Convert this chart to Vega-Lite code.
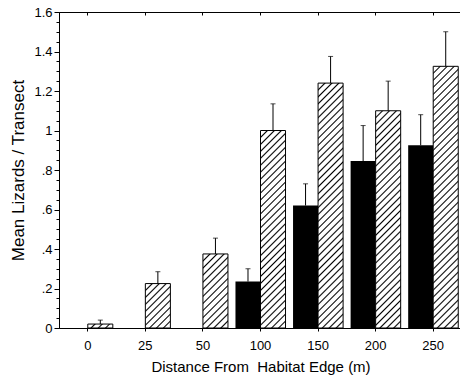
{
"$schema": "https://vega.github.io/schema/vega-lite/v6.json",
"width": 403, "height": 316,
"autosize": {"type": "none"},
"padding": {"left": 59, "top": 12, "right": 0, "bottom": 52},
"background": "white",
"config": {
  "view": {"stroke": "#000", "strokeWidth": 1},
  "axis": {"domainColor": "#000", "tickColor": "#000", "labelColor": "#000", "titleColor": "#000", "labelFont": "Liberation Sans", "titleFont": "Liberation Sans", "titleFontWeight": "normal", "grid": false, "labelFontSize": 13, "titleFontSize": 15}
},
"data": {"values": [
  {"dist": "0", "type": "hatched", "mean": 0.02, "upper": 0.04},
  {"dist": "25", "type": "hatched", "mean": 0.225, "upper": 0.285},
  {"dist": "50", "type": "hatched", "mean": 0.375, "upper": 0.455},
  {"dist": "100", "type": "black", "mean": 0.235, "upper": 0.30},
  {"dist": "100", "type": "hatched", "mean": 1.0, "upper": 1.135},
  {"dist": "150", "type": "black", "mean": 0.62, "upper": 0.73},
  {"dist": "150", "type": "hatched", "mean": 1.24, "upper": 1.375},
  {"dist": "200", "type": "black", "mean": 0.845, "upper": 1.025},
  {"dist": "200", "type": "hatched", "mean": 1.10, "upper": 1.25},
  {"dist": "250", "type": "black", "mean": 0.925, "upper": 1.08},
  {"dist": "250", "type": "hatched", "mean": 1.325, "upper": 1.50}
]},
"encoding": {
  "x": {"field": "dist", "type": "nominal", "scale": {"domain": ["0","25","50","100","150","200","250"], "paddingInner": 0, "paddingOuter": 0}, "axis": null},
  "xOffset": {"field": "type", "type": "nominal", "scale": {"domain": ["black", "hatched"], "paddingInner": 0, "paddingOuter": 0.15}},
  "y": {"field": "mean", "type": "quantitative", "scale": {"domain": [0, 1.6], "nice": false, "zero": true}, "axis": null}
},
"layer": [
  {
    "transform": [{"filter": "datum.type === 'black'"}],
    "mark": {"type": "bar", "fill": "#000"},
    "encoding": {
      "x": {"field": "dist", "type": "nominal", "scale": {"domain": ["0","25","50","100","150","200","250"], "paddingInner": 0, "paddingOuter": 0},
        "axis": {"orient": "bottom", "title": "Distance From\u00a0 Habitat Edge (m)", "labelAngle": 0, "tickSize": 3, "labelPadding": 8, "titlePadding": 7}},
      "y": {"field": "mean", "type": "quantitative", "scale": {"domain": [0, 1.6], "nice": false, "zero": true},
        "axis": {"orient": "left", "title": "Mean Lizards / Transect", "titleFontSize": 17, "titlePadding": 6,
          "values": [0,0.2,0.4,0.6,0.8,1,1.2,1.4,1.6],
          "labelExpr": "datum.value>0 && datum.value<1 ? slice(format(datum.value,'.1f'),1) : format(datum.value,'~g')",
          "labelOverlap": false, "labelFlush": false, "labelPadding": 2, "tickSize": 5}}
    }
  },
  {
    "transform": [{"filter": "datum.type === 'hatched' && datum.dist === '0'"}],
    "mark": {"type": "bar", "stroke": "#000", "strokeWidth": 1, "fill": {"gradient": "linear", "x1": 0, "y1": 0, "x2": 1.1298, "y2": 0.1785, "stops": [
      {"offset":0,"color":"#fff"},
      {"offset":0.1982,"color":"#fff"},{"offset":0.25,"color":"#000"},{"offset":0.3018,"color":"#fff"},
      {"offset":0.4482,"color":"#fff"},{"offset":0.5,"color":"#000"},{"offset":0.5518,"color":"#fff"},
      {"offset":0.6982,"color":"#fff"},{"offset":0.75,"color":"#000"},{"offset":0.8018,"color":"#fff"},
      {"offset":1,"color":"#fff"}]}}
  },
  {
    "transform": [{"filter": "datum.type === 'hatched' && datum.dist === '25'"}],
    "mark": {"type": "bar", "stroke": "#000", "strokeWidth": 1, "fill": {"gradient": "linear", "x1": 0, "y1": 0, "x2": 0.6677, "y2": 1.1869, "stops": [
      {"offset":0,"color":"#fff"},
      {"offset":0.0784,"color":"#fff"},{"offset":0.1,"color":"#000"},{"offset":0.1216,"color":"#fff"},
      {"offset":0.1784,"color":"#fff"},{"offset":0.2,"color":"#000"},{"offset":0.2216,"color":"#fff"},
      {"offset":0.2784,"color":"#fff"},{"offset":0.3,"color":"#000"},{"offset":0.3216,"color":"#fff"},
      {"offset":0.3784,"color":"#fff"},{"offset":0.4,"color":"#000"},{"offset":0.4216,"color":"#fff"},
      {"offset":0.4784,"color":"#fff"},{"offset":0.5,"color":"#000"},{"offset":0.5216,"color":"#fff"},
      {"offset":0.5784,"color":"#fff"},{"offset":0.6,"color":"#000"},{"offset":0.6216,"color":"#fff"},
      {"offset":0.6784,"color":"#fff"},{"offset":0.7,"color":"#000"},{"offset":0.7216,"color":"#fff"},
      {"offset":0.7784,"color":"#fff"},{"offset":0.8,"color":"#000"},{"offset":0.8216,"color":"#fff"},
      {"offset":0.8784,"color":"#fff"},{"offset":0.9,"color":"#000"},{"offset":0.9216,"color":"#fff"},
      {"offset":1,"color":"#fff"}]}}
  },
  {
    "transform": [{"filter": "datum.type === 'hatched' && datum.dist === '50'"}],
    "mark": {"type": "bar", "stroke": "#000", "strokeWidth": 1, "fill": {"gradient": "linear", "x1": 0, "y1": 0, "x2": 0.4053, "y2": 1.2007, "stops": [
      {"offset":0,"color":"#fff"},
      {"offset":0.0563,"color":"#fff"},{"offset":0.0714,"color":"#000"},{"offset":0.0865,"color":"#fff"},
      {"offset":0.1278,"color":"#fff"},{"offset":0.1429,"color":"#000"},{"offset":0.1580,"color":"#fff"},
      {"offset":0.1992,"color":"#fff"},{"offset":0.2143,"color":"#000"},{"offset":0.2294,"color":"#fff"},
      {"offset":0.2706,"color":"#fff"},{"offset":0.2857,"color":"#000"},{"offset":0.3008,"color":"#fff"},
      {"offset":0.3420,"color":"#fff"},{"offset":0.3571,"color":"#000"},{"offset":0.3722,"color":"#fff"},
      {"offset":0.4135,"color":"#fff"},{"offset":0.4286,"color":"#000"},{"offset":0.4437,"color":"#fff"},
      {"offset":0.4849,"color":"#fff"},{"offset":0.5,"color":"#000"},{"offset":0.5151,"color":"#fff"},
      {"offset":0.5563,"color":"#fff"},{"offset":0.5714,"color":"#000"},{"offset":0.5865,"color":"#fff"},
      {"offset":0.6278,"color":"#fff"},{"offset":0.6429,"color":"#000"},{"offset":0.6580,"color":"#fff"},
      {"offset":0.6992,"color":"#fff"},{"offset":0.7143,"color":"#000"},{"offset":0.7294,"color":"#fff"},
      {"offset":0.7706,"color":"#fff"},{"offset":0.7857,"color":"#000"},{"offset":0.8008,"color":"#fff"},
      {"offset":0.8420,"color":"#fff"},{"offset":0.8571,"color":"#000"},{"offset":0.8722,"color":"#fff"},
      {"offset":0.9135,"color":"#fff"},{"offset":0.9286,"color":"#000"},{"offset":0.9437,"color":"#fff"},
      {"offset":1,"color":"#fff"}]}}
  },
  {
    "transform": [{"filter": "datum.type === 'hatched' && datum.dist === '100'"}],
    "mark": {"type": "bar", "stroke": "#000", "strokeWidth": 1, "fill": {"gradient": "linear", "x1": 0, "y1": 0, "x2": 0.14036, "y2": 1.10882, "stops": [
      {"offset":0,"color":"#fff"},
      {"offset":0.0245,"color":"#fff"},{"offset":0.0312,"color":"#000"},{"offset":0.0379,"color":"#fff"},
      {"offset":0.0558,"color":"#fff"},{"offset":0.0625,"color":"#000"},{"offset":0.0692,"color":"#fff"},
      {"offset":0.0871,"color":"#fff"},{"offset":0.0938,"color":"#000"},{"offset":0.1005,"color":"#fff"},
      {"offset":0.1183,"color":"#fff"},{"offset":0.125,"color":"#000"},{"offset":0.1317,"color":"#fff"},
      {"offset":0.1495,"color":"#fff"},{"offset":0.1562,"color":"#000"},{"offset":0.1629,"color":"#fff"},
      {"offset":0.1808,"color":"#fff"},{"offset":0.1875,"color":"#000"},{"offset":0.1942,"color":"#fff"},
      {"offset":0.2121,"color":"#fff"},{"offset":0.2188,"color":"#000"},{"offset":0.2255,"color":"#fff"},
      {"offset":0.2433,"color":"#fff"},{"offset":0.25,"color":"#000"},{"offset":0.2567,"color":"#fff"},
      {"offset":0.2745,"color":"#fff"},{"offset":0.2812,"color":"#000"},{"offset":0.2879,"color":"#fff"},
      {"offset":0.3058,"color":"#fff"},{"offset":0.3125,"color":"#000"},{"offset":0.3192,"color":"#fff"},
      {"offset":0.3371,"color":"#fff"},{"offset":0.3438,"color":"#000"},{"offset":0.3505,"color":"#fff"},
      {"offset":0.3683,"color":"#fff"},{"offset":0.375,"color":"#000"},{"offset":0.3817,"color":"#fff"},
      {"offset":0.3995,"color":"#fff"},{"offset":0.4062,"color":"#000"},{"offset":0.4129,"color":"#fff"},
      {"offset":0.4308,"color":"#fff"},{"offset":0.4375,"color":"#000"},{"offset":0.4442,"color":"#fff"},
      {"offset":0.4621,"color":"#fff"},{"offset":0.4688,"color":"#000"},{"offset":0.4755,"color":"#fff"},
      {"offset":0.4933,"color":"#fff"},{"offset":0.5,"color":"#000"},{"offset":0.5067,"color":"#fff"},
      {"offset":0.5245,"color":"#fff"},{"offset":0.5312,"color":"#000"},{"offset":0.5379,"color":"#fff"},
      {"offset":0.5558,"color":"#fff"},{"offset":0.5625,"color":"#000"},{"offset":0.5692,"color":"#fff"},
      {"offset":0.5871,"color":"#fff"},{"offset":0.5938,"color":"#000"},{"offset":0.6005,"color":"#fff"},
      {"offset":0.6183,"color":"#fff"},{"offset":0.625,"color":"#000"},{"offset":0.6317,"color":"#fff"},
      {"offset":0.6495,"color":"#fff"},{"offset":0.6562,"color":"#000"},{"offset":0.6629,"color":"#fff"},
      {"offset":0.6808,"color":"#fff"},{"offset":0.6875,"color":"#000"},{"offset":0.6942,"color":"#fff"},
      {"offset":0.7121,"color":"#fff"},{"offset":0.7188,"color":"#000"},{"offset":0.7255,"color":"#fff"},
      {"offset":0.7433,"color":"#fff"},{"offset":0.75,"color":"#000"},{"offset":0.7567,"color":"#fff"},
      {"offset":0.7745,"color":"#fff"},{"offset":0.7812,"color":"#000"},{"offset":0.7879,"color":"#fff"},
      {"offset":0.8058,"color":"#fff"},{"offset":0.8125,"color":"#000"},{"offset":0.8192,"color":"#fff"},
      {"offset":0.8371,"color":"#fff"},{"offset":0.8438,"color":"#000"},{"offset":0.8505,"color":"#fff"},
      {"offset":0.8683,"color":"#fff"},{"offset":0.875,"color":"#000"},{"offset":0.8817,"color":"#fff"},
      {"offset":0.8995,"color":"#fff"},{"offset":0.9062,"color":"#000"},{"offset":0.9129,"color":"#fff"},
      {"offset":0.9308,"color":"#fff"},{"offset":0.9375,"color":"#000"},{"offset":0.9442,"color":"#fff"},
      {"offset":0.9621,"color":"#fff"},{"offset":0.9688,"color":"#000"},{"offset":0.9755,"color":"#fff"},
      {"offset":1,"color":"#fff"}]}}
  },
  {
    "transform": [{"filter": "datum.type === 'hatched' && datum.dist === '150'"}],
    "mark": {"type": "bar", "stroke": "#000", "strokeWidth": 1, "fill": {"gradient": "linear", "x1": 0, "y1": 0, "x2": 0.11134, "y2": 1.09072, "stops": [
      {"offset":0,"color":"#fff"},
      {"offset":0.0200,"color":"#fff"},{"offset":0.0256,"color":"#000"},{"offset":0.0312,"color":"#fff"},
      {"offset":0.0457,"color":"#fff"},{"offset":0.0513,"color":"#000"},{"offset":0.0569,"color":"#fff"},
      {"offset":0.0713,"color":"#fff"},{"offset":0.0769,"color":"#000"},{"offset":0.0825,"color":"#fff"},
      {"offset":0.0970,"color":"#fff"},{"offset":0.1026,"color":"#000"},{"offset":0.1082,"color":"#fff"},
      {"offset":0.1226,"color":"#fff"},{"offset":0.1282,"color":"#000"},{"offset":0.1338,"color":"#fff"},
      {"offset":0.1482,"color":"#fff"},{"offset":0.1538,"color":"#000"},{"offset":0.1594,"color":"#fff"},
      {"offset":0.1739,"color":"#fff"},{"offset":0.1795,"color":"#000"},{"offset":0.1851,"color":"#fff"},
      {"offset":0.1995,"color":"#fff"},{"offset":0.2051,"color":"#000"},{"offset":0.2107,"color":"#fff"},
      {"offset":0.2252,"color":"#fff"},{"offset":0.2308,"color":"#000"},{"offset":0.2364,"color":"#fff"},
      {"offset":0.2508,"color":"#fff"},{"offset":0.2564,"color":"#000"},{"offset":0.2620,"color":"#fff"},
      {"offset":0.2765,"color":"#fff"},{"offset":0.2821,"color":"#000"},{"offset":0.2877,"color":"#fff"},
      {"offset":0.3021,"color":"#fff"},{"offset":0.3077,"color":"#000"},{"offset":0.3133,"color":"#fff"},
      {"offset":0.3277,"color":"#fff"},{"offset":0.3333,"color":"#000"},{"offset":0.3389,"color":"#fff"},
      {"offset":0.3534,"color":"#fff"},{"offset":0.3590,"color":"#000"},{"offset":0.3646,"color":"#fff"},
      {"offset":0.3790,"color":"#fff"},{"offset":0.3846,"color":"#000"},{"offset":0.3902,"color":"#fff"},
      {"offset":0.4047,"color":"#fff"},{"offset":0.4103,"color":"#000"},{"offset":0.4159,"color":"#fff"},
      {"offset":0.4303,"color":"#fff"},{"offset":0.4359,"color":"#000"},{"offset":0.4415,"color":"#fff"},
      {"offset":0.4559,"color":"#fff"},{"offset":0.4615,"color":"#000"},{"offset":0.4671,"color":"#fff"},
      {"offset":0.4816,"color":"#fff"},{"offset":0.4872,"color":"#000"},{"offset":0.4928,"color":"#fff"},
      {"offset":0.5072,"color":"#fff"},{"offset":0.5128,"color":"#000"},{"offset":0.5184,"color":"#fff"},
      {"offset":0.5329,"color":"#fff"},{"offset":0.5385,"color":"#000"},{"offset":0.5441,"color":"#fff"},
      {"offset":0.5585,"color":"#fff"},{"offset":0.5641,"color":"#000"},{"offset":0.5697,"color":"#fff"},
      {"offset":0.5841,"color":"#fff"},{"offset":0.5897,"color":"#000"},{"offset":0.5953,"color":"#fff"},
      {"offset":0.6098,"color":"#fff"},{"offset":0.6154,"color":"#000"},{"offset":0.6210,"color":"#fff"},
      {"offset":0.6354,"color":"#fff"},{"offset":0.6410,"color":"#000"},{"offset":0.6466,"color":"#fff"},
      {"offset":0.6611,"color":"#fff"},{"offset":0.6667,"color":"#000"},{"offset":0.6723,"color":"#fff"},
      {"offset":0.6867,"color":"#fff"},{"offset":0.6923,"color":"#000"},{"offset":0.6979,"color":"#fff"},
      {"offset":0.7123,"color":"#fff"},{"offset":0.7179,"color":"#000"},{"offset":0.7235,"color":"#fff"},
      {"offset":0.7380,"color":"#fff"},{"offset":0.7436,"color":"#000"},{"offset":0.7492,"color":"#fff"},
      {"offset":0.7636,"color":"#fff"},{"offset":0.7692,"color":"#000"},{"offset":0.7748,"color":"#fff"},
      {"offset":0.7893,"color":"#fff"},{"offset":0.7949,"color":"#000"},{"offset":0.8005,"color":"#fff"},
      {"offset":0.8149,"color":"#fff"},{"offset":0.8205,"color":"#000"},{"offset":0.8261,"color":"#fff"},
      {"offset":0.8406,"color":"#fff"},{"offset":0.8462,"color":"#000"},{"offset":0.8518,"color":"#fff"},
      {"offset":0.8662,"color":"#fff"},{"offset":0.8718,"color":"#000"},{"offset":0.8774,"color":"#fff"},
      {"offset":0.8918,"color":"#fff"},{"offset":0.8974,"color":"#000"},{"offset":0.9030,"color":"#fff"},
      {"offset":0.9175,"color":"#fff"},{"offset":0.9231,"color":"#000"},{"offset":0.9287,"color":"#fff"},
      {"offset":0.9431,"color":"#fff"},{"offset":0.9487,"color":"#000"},{"offset":0.9543,"color":"#fff"},
      {"offset":0.9688,"color":"#fff"},{"offset":0.9744,"color":"#000"},{"offset":0.9800,"color":"#fff"},
      {"offset":1,"color":"#fff"}]}}
  },
  {
    "transform": [{"filter": "datum.type === 'hatched' && datum.dist === '200'"}],
    "mark": {"type": "bar", "stroke": "#000", "strokeWidth": 1, "fill": {"gradient": "linear", "x1": 0, "y1": 0, "x2": 0.12664, "y2": 1.1005, "stops": [
      {"offset":0,"color":"#fff"},
      {"offset":0.0224,"color":"#fff"},{"offset":0.0286,"color":"#000"},{"offset":0.0348,"color":"#fff"},
      {"offset":0.0509,"color":"#fff"},{"offset":0.0571,"color":"#000"},{"offset":0.0633,"color":"#fff"},
      {"offset":0.0795,"color":"#fff"},{"offset":0.0857,"color":"#000"},{"offset":0.0919,"color":"#fff"},
      {"offset":0.1081,"color":"#fff"},{"offset":0.1143,"color":"#000"},{"offset":0.1205,"color":"#fff"},
      {"offset":0.1367,"color":"#fff"},{"offset":0.1429,"color":"#000"},{"offset":0.1491,"color":"#fff"},
      {"offset":0.1652,"color":"#fff"},{"offset":0.1714,"color":"#000"},{"offset":0.1776,"color":"#fff"},
      {"offset":0.1938,"color":"#fff"},{"offset":0.2,"color":"#000"},{"offset":0.2062,"color":"#fff"},
      {"offset":0.2224,"color":"#fff"},{"offset":0.2286,"color":"#000"},{"offset":0.2348,"color":"#fff"},
      {"offset":0.2509,"color":"#fff"},{"offset":0.2571,"color":"#000"},{"offset":0.2633,"color":"#fff"},
      {"offset":0.2795,"color":"#fff"},{"offset":0.2857,"color":"#000"},{"offset":0.2919,"color":"#fff"},
      {"offset":0.3081,"color":"#fff"},{"offset":0.3143,"color":"#000"},{"offset":0.3205,"color":"#fff"},
      {"offset":0.3367,"color":"#fff"},{"offset":0.3429,"color":"#000"},{"offset":0.3491,"color":"#fff"},
      {"offset":0.3652,"color":"#fff"},{"offset":0.3714,"color":"#000"},{"offset":0.3776,"color":"#fff"},
      {"offset":0.3938,"color":"#fff"},{"offset":0.4,"color":"#000"},{"offset":0.4062,"color":"#fff"},
      {"offset":0.4224,"color":"#fff"},{"offset":0.4286,"color":"#000"},{"offset":0.4348,"color":"#fff"},
      {"offset":0.4509,"color":"#fff"},{"offset":0.4571,"color":"#000"},{"offset":0.4633,"color":"#fff"},
      {"offset":0.4795,"color":"#fff"},{"offset":0.4857,"color":"#000"},{"offset":0.4919,"color":"#fff"},
      {"offset":0.5081,"color":"#fff"},{"offset":0.5143,"color":"#000"},{"offset":0.5205,"color":"#fff"},
      {"offset":0.5367,"color":"#fff"},{"offset":0.5429,"color":"#000"},{"offset":0.5491,"color":"#fff"},
      {"offset":0.5652,"color":"#fff"},{"offset":0.5714,"color":"#000"},{"offset":0.5776,"color":"#fff"},
      {"offset":0.5938,"color":"#fff"},{"offset":0.6,"color":"#000"},{"offset":0.6062,"color":"#fff"},
      {"offset":0.6224,"color":"#fff"},{"offset":0.6286,"color":"#000"},{"offset":0.6348,"color":"#fff"},
      {"offset":0.6509,"color":"#fff"},{"offset":0.6571,"color":"#000"},{"offset":0.6633,"color":"#fff"},
      {"offset":0.6795,"color":"#fff"},{"offset":0.6857,"color":"#000"},{"offset":0.6919,"color":"#fff"},
      {"offset":0.7081,"color":"#fff"},{"offset":0.7143,"color":"#000"},{"offset":0.7205,"color":"#fff"},
      {"offset":0.7367,"color":"#fff"},{"offset":0.7429,"color":"#000"},{"offset":0.7491,"color":"#fff"},
      {"offset":0.7652,"color":"#fff"},{"offset":0.7714,"color":"#000"},{"offset":0.7776,"color":"#fff"},
      {"offset":0.7938,"color":"#fff"},{"offset":0.8,"color":"#000"},{"offset":0.8062,"color":"#fff"},
      {"offset":0.8224,"color":"#fff"},{"offset":0.8286,"color":"#000"},{"offset":0.8348,"color":"#fff"},
      {"offset":0.8509,"color":"#fff"},{"offset":0.8571,"color":"#000"},{"offset":0.8633,"color":"#fff"},
      {"offset":0.8795,"color":"#fff"},{"offset":0.8857,"color":"#000"},{"offset":0.8919,"color":"#fff"},
      {"offset":0.9081,"color":"#fff"},{"offset":0.9143,"color":"#000"},{"offset":0.9205,"color":"#fff"},
      {"offset":0.9367,"color":"#fff"},{"offset":0.9429,"color":"#000"},{"offset":0.9491,"color":"#fff"},
      {"offset":0.9652,"color":"#fff"},{"offset":0.9714,"color":"#000"},{"offset":0.9776,"color":"#fff"},
      {"offset":1,"color":"#fff"}]}}
  },
  {
    "transform": [{"filter": "datum.type === 'hatched' && datum.dist === '250'"}],
    "mark": {"type": "bar", "stroke": "#000", "strokeWidth": 1, "fill": {"gradient": "linear", "x1": 0, "y1": 0, "x2": 0.10371, "y2": 1.08563, "stops": [
      {"offset":0,"color":"#fff"},
      {"offset":0.0192,"color":"#fff"},{"offset":0.0244,"color":"#000"},{"offset":0.0296,"color":"#fff"},
      {"offset":0.0436,"color":"#fff"},{"offset":0.0488,"color":"#000"},{"offset":0.0540,"color":"#fff"},
      {"offset":0.0680,"color":"#fff"},{"offset":0.0732,"color":"#000"},{"offset":0.0784,"color":"#fff"},
      {"offset":0.0924,"color":"#fff"},{"offset":0.0976,"color":"#000"},{"offset":0.1028,"color":"#fff"},
      {"offset":0.1168,"color":"#fff"},{"offset":0.1220,"color":"#000"},{"offset":0.1272,"color":"#fff"},
      {"offset":0.1411,"color":"#fff"},{"offset":0.1463,"color":"#000"},{"offset":0.1515,"color":"#fff"},
      {"offset":0.1655,"color":"#fff"},{"offset":0.1707,"color":"#000"},{"offset":0.1759,"color":"#fff"},
      {"offset":0.1899,"color":"#fff"},{"offset":0.1951,"color":"#000"},{"offset":0.2003,"color":"#fff"},
      {"offset":0.2143,"color":"#fff"},{"offset":0.2195,"color":"#000"},{"offset":0.2247,"color":"#fff"},
      {"offset":0.2387,"color":"#fff"},{"offset":0.2439,"color":"#000"},{"offset":0.2491,"color":"#fff"},
      {"offset":0.2631,"color":"#fff"},{"offset":0.2683,"color":"#000"},{"offset":0.2735,"color":"#fff"},
      {"offset":0.2875,"color":"#fff"},{"offset":0.2927,"color":"#000"},{"offset":0.2979,"color":"#fff"},
      {"offset":0.3119,"color":"#fff"},{"offset":0.3171,"color":"#000"},{"offset":0.3223,"color":"#fff"},
      {"offset":0.3363,"color":"#fff"},{"offset":0.3415,"color":"#000"},{"offset":0.3467,"color":"#fff"},
      {"offset":0.3607,"color":"#fff"},{"offset":0.3659,"color":"#000"},{"offset":0.3711,"color":"#fff"},
      {"offset":0.3850,"color":"#fff"},{"offset":0.3902,"color":"#000"},{"offset":0.3954,"color":"#fff"},
      {"offset":0.4094,"color":"#fff"},{"offset":0.4146,"color":"#000"},{"offset":0.4198,"color":"#fff"},
      {"offset":0.4338,"color":"#fff"},{"offset":0.4390,"color":"#000"},{"offset":0.4442,"color":"#fff"},
      {"offset":0.4582,"color":"#fff"},{"offset":0.4634,"color":"#000"},{"offset":0.4686,"color":"#fff"},
      {"offset":0.4826,"color":"#fff"},{"offset":0.4878,"color":"#000"},{"offset":0.4930,"color":"#fff"},
      {"offset":0.5070,"color":"#fff"},{"offset":0.5122,"color":"#000"},{"offset":0.5174,"color":"#fff"},
      {"offset":0.5314,"color":"#fff"},{"offset":0.5366,"color":"#000"},{"offset":0.5418,"color":"#fff"},
      {"offset":0.5558,"color":"#fff"},{"offset":0.5610,"color":"#000"},{"offset":0.5662,"color":"#fff"},
      {"offset":0.5802,"color":"#fff"},{"offset":0.5854,"color":"#000"},{"offset":0.5906,"color":"#fff"},
      {"offset":0.6046,"color":"#fff"},{"offset":0.6098,"color":"#000"},{"offset":0.6150,"color":"#fff"},
      {"offset":0.6289,"color":"#fff"},{"offset":0.6341,"color":"#000"},{"offset":0.6393,"color":"#fff"},
      {"offset":0.6533,"color":"#fff"},{"offset":0.6585,"color":"#000"},{"offset":0.6637,"color":"#fff"},
      {"offset":0.6777,"color":"#fff"},{"offset":0.6829,"color":"#000"},{"offset":0.6881,"color":"#fff"},
      {"offset":0.7021,"color":"#fff"},{"offset":0.7073,"color":"#000"},{"offset":0.7125,"color":"#fff"},
      {"offset":0.7265,"color":"#fff"},{"offset":0.7317,"color":"#000"},{"offset":0.7369,"color":"#fff"},
      {"offset":0.7509,"color":"#fff"},{"offset":0.7561,"color":"#000"},{"offset":0.7613,"color":"#fff"},
      {"offset":0.7753,"color":"#fff"},{"offset":0.7805,"color":"#000"},{"offset":0.7857,"color":"#fff"},
      {"offset":0.7997,"color":"#fff"},{"offset":0.8049,"color":"#000"},{"offset":0.8101,"color":"#fff"},
      {"offset":0.8241,"color":"#fff"},{"offset":0.8293,"color":"#000"},{"offset":0.8345,"color":"#fff"},
      {"offset":0.8485,"color":"#fff"},{"offset":0.8537,"color":"#000"},{"offset":0.8589,"color":"#fff"},
      {"offset":0.8728,"color":"#fff"},{"offset":0.8780,"color":"#000"},{"offset":0.8832,"color":"#fff"},
      {"offset":0.8972,"color":"#fff"},{"offset":0.9024,"color":"#000"},{"offset":0.9076,"color":"#fff"},
      {"offset":0.9216,"color":"#fff"},{"offset":0.9268,"color":"#000"},{"offset":0.9320,"color":"#fff"},
      {"offset":0.9460,"color":"#fff"},{"offset":0.9512,"color":"#000"},{"offset":0.9564,"color":"#fff"},
      {"offset":0.9704,"color":"#fff"},{"offset":0.9756,"color":"#000"},{"offset":0.9808,"color":"#fff"},
      {"offset":1,"color":"#fff"}]}}
  },
  {
    "mark": {"type": "rule", "color": "#000", "strokeWidth": 1},
    "encoding": {
      "y": {"field": "mean", "type": "quantitative", "scale": {"domain": [0, 1.6], "nice": false, "zero": true},
        "axis": {"orient": "left", "title": null, "labels": false, "domain": false, "tickSize": 3,
          "values": [0.05,0.1,0.15,0.25,0.3,0.35,0.45,0.5,0.55,0.65,0.7,0.75,0.85,0.9,0.95,1.05,1.1,1.15,1.25,1.3,1.35,1.45,1.5,1.55]}},
      "y2": {"field": "upper"}
    }
  },
  {
    "mark": {"type": "tick", "color": "#000", "thickness": 1, "size": 5, "orient": "horizontal"},
    "encoding": {
      "x": {"field": "dist", "type": "nominal", "scale": {"domain": ["0","25","50","100","150","200","250"], "paddingInner": 0, "paddingOuter": 0},
        "axis": {"orient": "top", "labels": false, "title": null, "tickSize": -3, "domain": true}},
      "y": {"field": "upper", "type": "quantitative", "scale": {"domain": [0, 1.6], "nice": false, "zero": true}, "axis": null}
    }
  }
],
"resolve": {"axis": {"x": "independent", "y": "independent"}}
}
